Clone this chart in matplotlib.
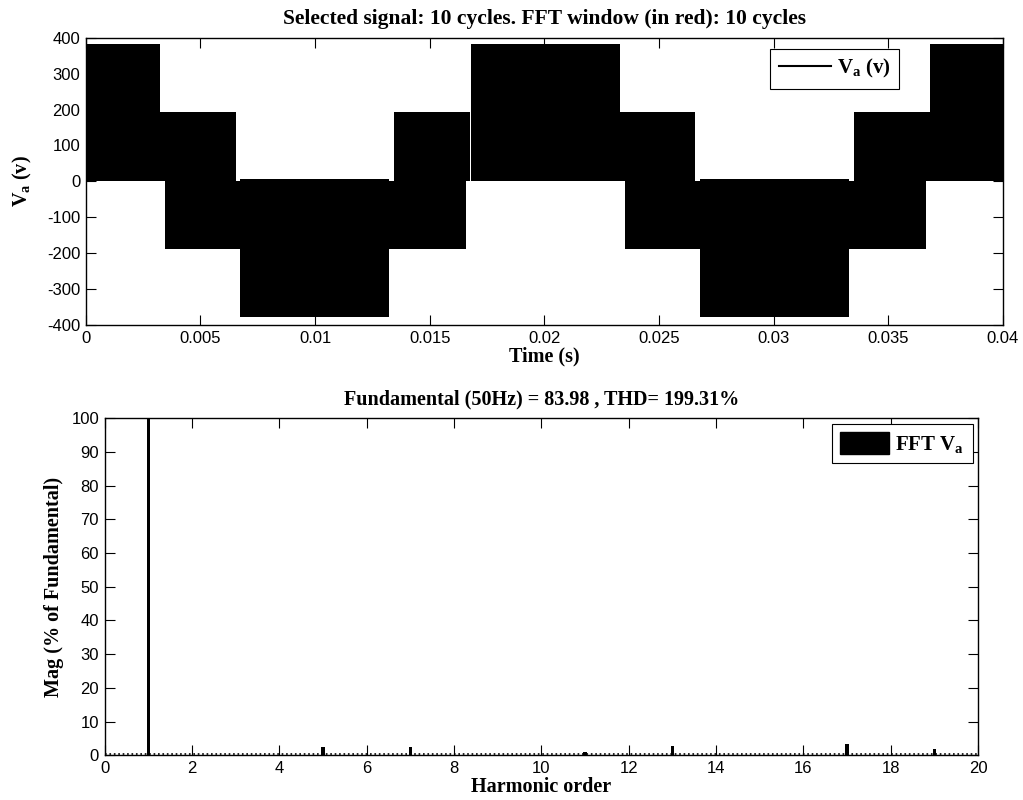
import matplotlib
matplotlib.use("Agg")
import matplotlib.pyplot as plt
from matplotlib.lines import Line2D
from matplotlib.patches import Patch

# Top plot: visible switching blocks of the phase voltage (start, end, low, high)
blk_start = [0.0, 0.00322, 0.00344, 0.00672, 0.01346, 0.01678,
             0.0233, 0.0235, 0.0268, 0.0335, 0.0368]
blk_end = [0.00322, 0.00656, 0.01659, 0.01324, 0.01674, 0.0233,
           0.02658, 0.03664, 0.0333, 0.04, 0.04]
blk_low = [0, 0, -188, -378, 0, 0, 0, -188, -378, 0, 0]
blk_high = [383, 192, 0, 6, 192, 383, 192, 0, 6, 192, 383]

# Bottom plot: harmonic spectrum (% of fundamental)
harm_order = [1, 5, 7, 11, 13, 17, 19]
harm_mag = [100, 2.5, 2.5, 1.0, 2.8, 3.4, 2.0]

time_ticks = [0, 0.005, 0.01, 0.015, 0.02, 0.025, 0.03, 0.035, 0.04]
time_labels = ["0", "0.005", "0.01", "0.015", "0.02", "0.025", "0.03", "0.035", "0.04"]

plt.rcParams["font.family"] = "Liberation Sans"
plt.rcParams["axes.unicode_minus"] = False
plt.rcParams["mathtext.fontset"] = "custom"
plt.rcParams["mathtext.rm"] = "Liberation Serif"
plt.rcParams["mathtext.bf"] = "Liberation Serif:bold"

serif_bold = dict(family="Liberation Serif", weight="bold", size=14.5)
leg_font = dict(family="Liberation Serif", weight="bold", size=15)


def matlab_axes(ax):
    ax.tick_params(direction="in", top=True, right=True, length=7,
                   width=0.8, labelsize=12, pad=4)
    for s in ax.spines.values():
        s.set_linewidth(1.0)


fig = plt.figure(figsize=(10.23, 8), dpi=100)

# ---- top: time signal
ax1 = fig.add_axes([0.0838, 0.5938, 0.8966, 0.3591])
for t0, t1, lo, hi in zip(blk_start, blk_end, blk_low, blk_high):
    ax1.fill_between([t0, t1], [lo, lo], [hi, hi], color="k", lw=0)
ax1.set_xlim(0, 0.04)
ax1.set_ylim(-400, 400)
ax1.set_xticks(time_ticks)
ax1.set_xticklabels(time_labels)
ax1.set_yticks(range(-400, 401, 100))
matlab_axes(ax1)
ax1.set_title("Selected signal: 10 cycles. FFT window (in red): 10 cycles",
              fontdict=dict(serif_bold, size=15.5), pad=10)
ax1.set_xlabel("Time (s)", fontdict=serif_bold, labelpad=1)
ax1.set_ylabel(r"$\mathbf{V_a}$ (v)", fontdict=serif_bold, labelpad=9)
leg1 = ax1.legend([Line2D([], [], color="k", lw=1.5)], [r"$\mathbf{V_a}$ (v)"],
                  loc="upper right", bbox_to_anchor=(0.8866, 0.961),
                  borderaxespad=0, fancybox=False, framealpha=1,
                  edgecolor="k", handlelength=2.5, handletextpad=0.3,
                  borderpad=0.4, prop=leg_font)
leg1.get_frame().set_linewidth(0.8)

# ---- bottom: FFT
ax2 = fig.add_axes([0.1023, 0.0559, 0.8537, 0.4212])
ax2.bar(harm_order, harm_mag, width=0.07, color="k", lw=0)
ax2.plot([0, 20], [0.25, 0.25], ls=":", color="k", lw=1.2)
ax2.set_xlim(0, 20)
ax2.set_ylim(0, 100)
ax2.set_xticks(range(0, 21, 2))
ax2.set_yticks(range(0, 101, 10))
matlab_axes(ax2)
ax2.set_title("Fundamental (50Hz) = 83.98 , THD= 199.31%",
              fontdict=serif_bold, pad=10)
ax2.set_xlabel("Harmonic order", fontdict=serif_bold, labelpad=1)
ax2.set_ylabel("Mag (% of Fundamental)", fontdict=serif_bold, labelpad=5)
leg2 = ax2.legend([Patch(facecolor="k", edgecolor="k")], [r"FFT $\mathbf{V_a}$"],
                  loc="upper right", bbox_to_anchor=(0.994, 0.983),
                  borderaxespad=0, fancybox=False, framealpha=1,
                  edgecolor="k", handlelength=2.35, handleheight=1.2,
                  handletextpad=0.3, borderpad=0.4, prop=leg_font)
leg2.get_frame().set_linewidth(0.8)

fig.savefig("out.png", dpi=100)
